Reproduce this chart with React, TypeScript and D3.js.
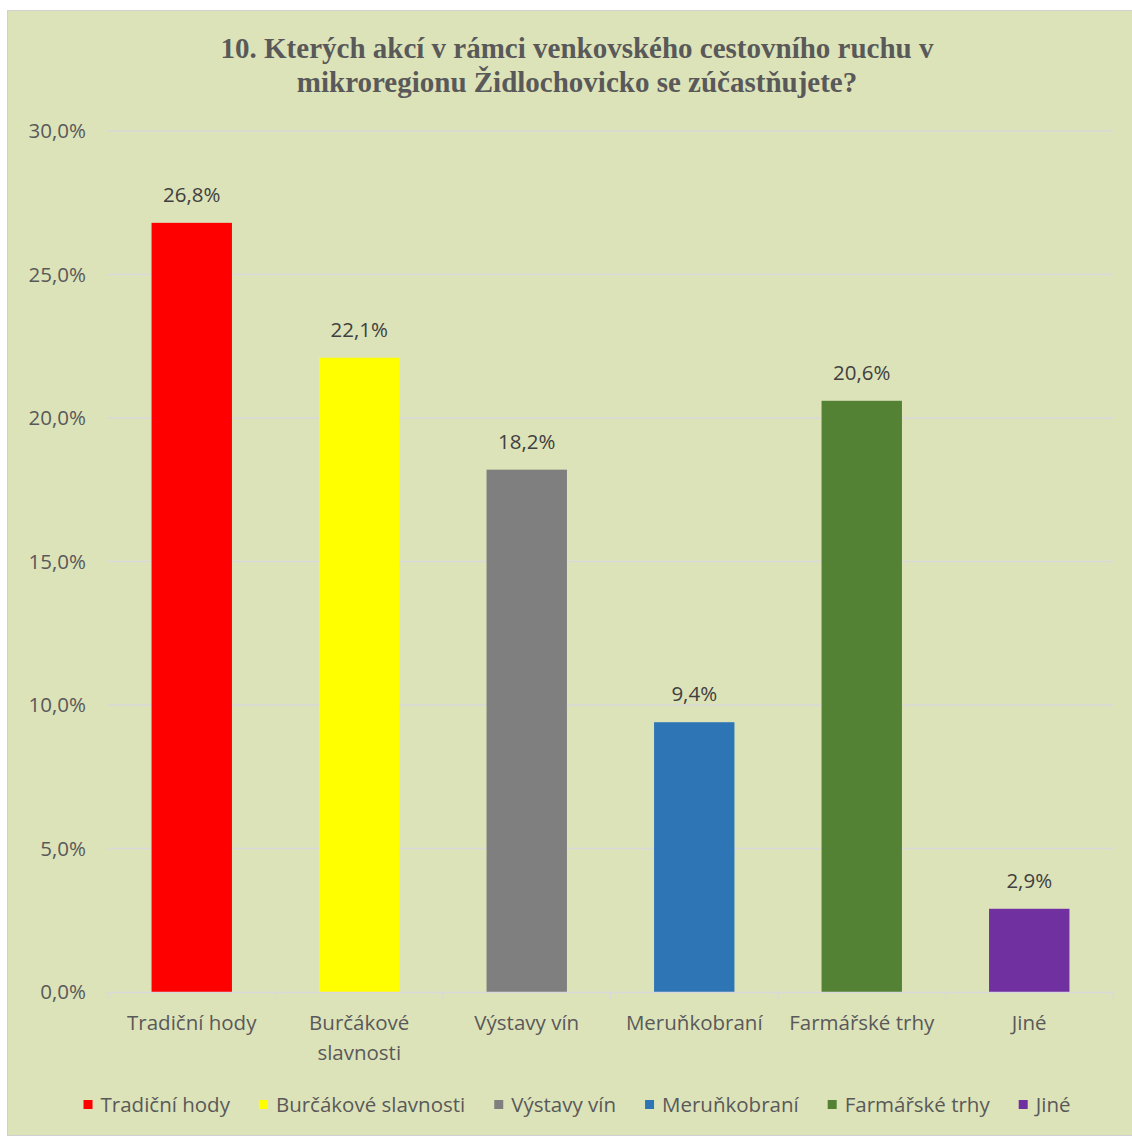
import { useEffect, useRef } from 'react';
import * as d3 from 'd3';

const categories = ['Tradiční hody', 'Burčákové slavnosti', 'Výstavy vín', 'Meruňkobraní', 'Farmářské trhy', 'Jiné'];
const values = [26.8, 22.1, 18.2, 9.4, 20.6, 2.9];
const colors = ['#ff0000', '#ffff00', '#7f7f7f', '#2e75b6', '#548235', '#7030a0'];
const yTicks = [0, 5, 10, 15, 20, 25, 30];
const titleLines = [
  '10. Kterých akcí v rámci venkovského cestovního ruchu v',
  'mikroregionu Židlochovicko se zúčastňujete?',
];

const W = 1132;
const H = 1137;
const FONT = '"Open Sans", "Noto Sans", sans-serif';
const FS = 20.5;
const TEXT = '#595959';
const fmt = (v: number) => v.toFixed(1).replace('.', ',') + '%';

export default function App() {
  const svgRef = useRef<SVGSVGElement>(null);

  useEffect(() => {
    if (!svgRef.current) return;
    const svg = d3.select(svgRef.current);
    svg.selectAll('*').remove();

    // chart frame
    svg.append('rect')
      .attr('x', 7.5).attr('y', 10.5)
      .attr('width', W - 7).attr('height', H - 12)
      .attr('fill', '#dde3b9')
      .attr('stroke', '#d0d0d0');

    // title
    svg.append('g').selectAll('text')
      .data(titleLines)
      .join('text')
      .attr('x', 577)
      .attr('y', (_, i) => 58 + i * 34)
      .attr('text-anchor', 'middle')
      .attr('font-family', '"Liberation Serif", "Times New Roman", serif')
      .attr('font-weight', 'bold')
      .attr('font-size', 29)
      .attr('fill', TEXT)
      .text(d => d);

    const x = d3.scaleBand<string>()
      .domain(categories)
      .range([108, 1113])
      .paddingInner(0.52)
      .paddingOuter(0.26);

    const y = d3.scaleLinear().domain([0, 30]).range([992, 131]);

    // gridlines
    svg.append('g').selectAll('line')
      .data(yTicks.filter(t => t > 0))
      .join('line')
      .attr('x1', 108).attr('x2', 1113)
      .attr('y1', d => y(d)).attr('y2', d => y(d))
      .attr('stroke', '#d9d9d9').attr('stroke-width', 1.3);

    // y labels
    svg.append('g').selectAll('text')
      .data(yTicks)
      .join('text')
      .attr('x', 86)
      .attr('y', d => y(d) + 7)
      .attr('text-anchor', 'end')
      .attr('font-family', FONT)
      .attr('font-size', FS)
      .attr('fill', TEXT)
      .text(d => fmt(d));

    // bars
    svg.append('g').selectAll('rect')
      .data(values)
      .join('rect')
      .attr('x', (_, i) => x(categories[i])!)
      .attr('y', d => y(d))
      .attr('width', x.bandwidth())
      .attr('height', d => y(0) - y(d))
      .attr('fill', (_, i) => colors[i]);

    // data labels
    svg.append('g').selectAll('text')
      .data(values)
      .join('text')
      .attr('x', (_, i) => x(categories[i])! + x.bandwidth() / 2)
      .attr('y', d => y(d) - 21)
      .attr('text-anchor', 'middle')
      .attr('font-family', FONT)
      .attr('font-size', FS)
      .attr('fill', '#404040')
      .text(d => fmt(d));

    // x axis
    const step = x.step();
    const x0 = 108;
    const ax = svg.append('g');
    ax.append('line')
      .attr('x1', x0).attr('x2', 1113)
      .attr('y1', 992.5).attr('y2', 992.5)
      .attr('stroke', '#d9d9d9').attr('stroke-width', 1.3);
    ax.selectAll('line.tick')
      .data(d3.range(categories.length + 1))
      .join('line')
      .attr('class', 'tick')
      .attr('x1', i => x0 + i * step).attr('x2', i => x0 + i * step)
      .attr('y1', 992).attr('y2', 999)
      .attr('stroke', '#d9d9d9').attr('stroke-width', 1.3);

    categories.forEach(c => {
      const lines = c.length > 15 ? c.split(' ') : [c];
      const t = ax.append('text')
        .attr('text-anchor', 'middle')
        .attr('font-family', FONT)
        .attr('font-size', FS)
        .attr('fill', TEXT);
      lines.forEach((l, j) => {
        t.append('tspan')
          .attr('x', x(c)! + x.bandwidth() / 2)
          .attr('y', 1030 + j * 30)
          .text(l);
      });
    });

    // legend
    const lg = svg.append('g');
    const items = categories.map((c, i) => {
      const g = lg.append('g');
      g.append('rect')
        .attr('x', 0).attr('y', -12)
        .attr('width', 9).attr('height', 9)
        .attr('fill', colors[i]);
      const t = g.append('text')
        .attr('x', 17).attr('y', 0)
        .attr('font-family', FONT)
        .attr('font-size', FS)
        .attr('fill', TEXT)
        .text(c);
      const w = 17 + (t.node() as SVGTextElement).getComputedTextLength();
      return { g, w };
    });
    const gap = 29;
    const total = d3.sum(items, d => d.w) + gap * (items.length - 1);
    let cx = 577 - total / 2;
    items.forEach(it => {
      it.g.attr('transform', `translate(${cx},1112)`);
      cx += it.w + gap;
    });
  }, []);

  return (
    <div style={{ position: 'absolute', left: 0, top: 0, background: '#fff' }}>
      <svg ref={svgRef} width={W} height={H} style={{ display: 'block' }} />
    </div>
  );
}
